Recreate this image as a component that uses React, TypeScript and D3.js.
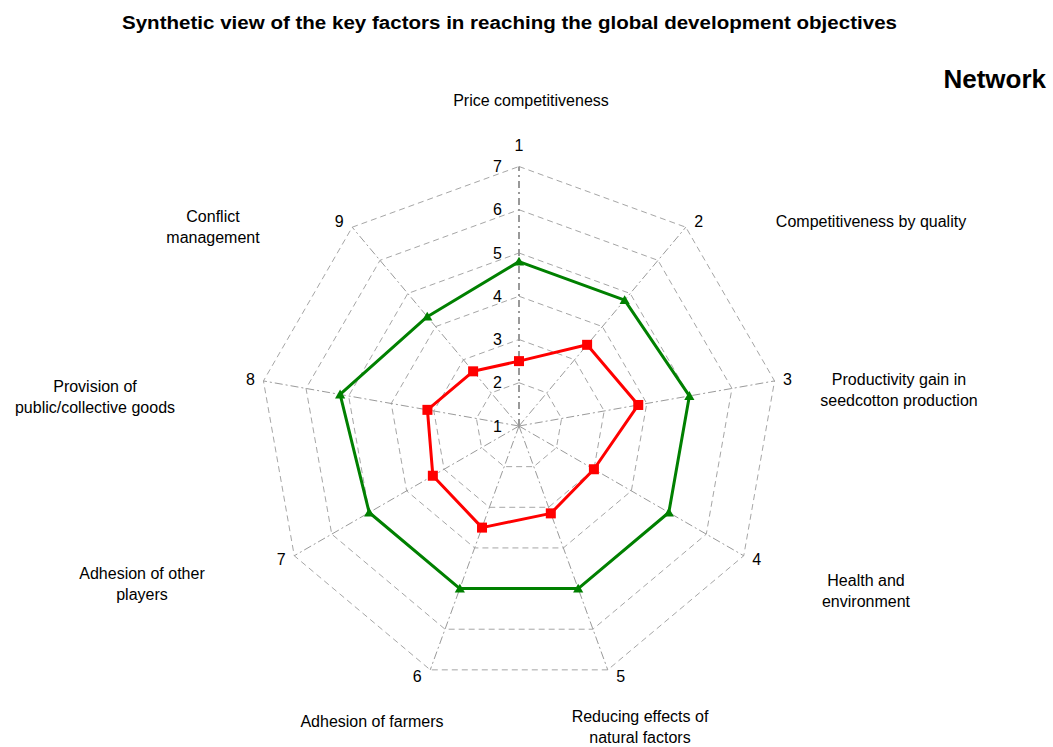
import React from "react";
import * as d3 from "d3";

// ---- data ----
const categories: string[] = [
  "Price competitiveness",
  "Competitiveness by quality",
  "Productivity gain in\nseedcotton production",
  "Health and\nenvironment",
  "Reducing effects of\nnatural factors",
  "Adhesion of farmers",
  "Adhesion of other\nplayers",
  "Provision of\npublic/collective goods",
  "Conflict\nmanagement",
];
const axisNumbers: string[] = ["1", "2", "3", "4", "5", "6", "7", "8", "9"];
const tickValues: number[] = [1, 2, 3, 4, 5, 6, 7];
const greenSeries: number[] = [4.8, 4.8, 5.0, 5.0, 5.0, 5.0, 5.0, 5.2, 4.3];
const redSeries: number[] = [2.5, 3.45, 3.8, 3.0, 3.15, 3.5, 3.3, 3.15, 2.65];

const titleText = "Synthetic view of the key factors in reaching the global development objectives";
const subtitleText = "Network";

// ---- layout ----
const W = 1053;
const H = 747;
const CX = 519;
const CY = 426;
const R = 259.5;
// category label anchors (center x, first-line baseline)
const labelLayout: [number, number][] = [
  [531, 106],
  [871, 227],
  [899, 385],
  [866, 586],
  [640, 722],
  [372, 727],
  [142, 579],
  [95, 392],
  [213, 222],
];
const FONT = "'Liberation Sans', Arial, Helvetica, sans-serif";

export default function App() {
  const n = categories.length;
  const r = d3.scaleLinear().domain([1, 7]).range([0, R]);
  const angle = d3
    .scalePoint<number>()
    .domain(d3.range(n + 1))
    .range([0, 2 * Math.PI]);
  const ang = (i: number) => angle(i) as number;

  const radial = (vals: number[]) =>
    d3
      .lineRadial<number>()
      .angle((_, i) => ang(i))
      .radius((v) => r(v))
      .curve(d3.curveLinearClosed)(vals) as string;

  const pt = (i: number, v: number): [number, number] => {
    const a = ang(i);
    return [Math.sin(a) * r(v), -Math.cos(a) * r(v)];
  };

  const gridLevels = tickValues.filter((t) => t > 1);

  const tri = d3.symbol().type(d3.symbolTriangle).size(45)() as string;

  return (
    <svg
      width={W}
      height={H}
      style={{ position: "absolute", left: 0, top: 0, background: "#fff" }}
      fontFamily={FONT}
    >
      <text
        x={509.5}
        y={29}
        textAnchor="middle"
        fontWeight="bold"
        fontSize={18}
        textLength={775}
        lengthAdjust="spacingAndGlyphs"
        fill="#000"
      >
        {titleText}
      </text>
      <text x={1046} y={88} textAnchor="end" fontWeight="bold" fontSize={26} fill="#000">
        {subtitleText}
      </text>

      <g transform={`translate(${CX},${CY})`}>
        {/* grid polygons */}
        {gridLevels.map((lv) => (
          <path
            key={"g" + lv}
            d={radial(categories.map(() => lv))}
            fill="none"
            stroke="#a6a6a6"
            strokeWidth={1}
            strokeDasharray="6,4"
          />
        ))}
        {/* spokes */}
        {categories.map((_, i) => {
          const [x, y] = pt(i, 7);
          return (
            <line
              key={"s" + i}
              x1={0}
              y1={0}
              x2={x}
              y2={y}
              stroke={i === 0 ? "#999999" : "#9a9a9a"}
              strokeWidth={i === 0 ? 2 : 1}
              strokeDasharray={i === 0 ? "7,4,2,4" : "8,3,2,3"}
            />
          );
        })}
        {/* tick labels */}
        {tickValues.map((t) => (
          <text
            key={"t" + t}
            x={-17}
            y={-r(t)}
            dy="0.35em"
            textAnchor="end"
            fontSize={16}
            fill="#000"
          >
            {t}
          </text>
        ))}
        {/* axis numbers */}
        {axisNumbers.map((lab, i) => {
          const a = ang(i);
          const [x, y] = pt(i, 7);
          const s = Math.sin(a);
          const top = Math.abs(s) < 0.1;
          const dx = top ? 0 : 13 * Math.sign(s);
          const dy = top ? -21 : -Math.cos(a) * 7;
          return (
            <text
              key={"n" + i}
              x={x + dx}
              y={y + dy}
              dy="0.35em"
              textAnchor="middle"
              fontSize={16}
              fill="#000"
            >
              {lab}
            </text>
          );
        })}

        {/* green series */}
        <path d={radial(greenSeries)} fill="none" stroke="#008000" strokeWidth={3} strokeLinejoin="round" />
        {greenSeries.map((v, i) => {
          const [x, y] = pt(i, v);
          return <path key={"gm" + i} d={tri} transform={`translate(${x},${y + 1})`} fill="#008000" />;
        })}

        {/* red series */}
        <path d={radial(redSeries)} fill="none" stroke="#ff0000" strokeWidth={3} strokeLinejoin="round" />
        {redSeries.map((v, i) => {
          const [x, y] = pt(i, v);
          return <rect key={"rm" + i} x={x - 5} y={y - 5} width={10} height={10} fill="#ff0000" />;
        })}
      </g>

      {/* category labels */}
      {categories.map((c, i) => {
        const [x, y] = labelLayout[i];
        return (
          <text key={"c" + i} x={x} y={y} textAnchor="middle" fontSize={16} fill="#000">
            {c.split("\n").map((line, j) => (
              <tspan key={j} x={x} y={y + j * 20.5}>
                {line}
              </tspan>
            ))}
          </text>
        );
      })}
    </svg>
  );
}
